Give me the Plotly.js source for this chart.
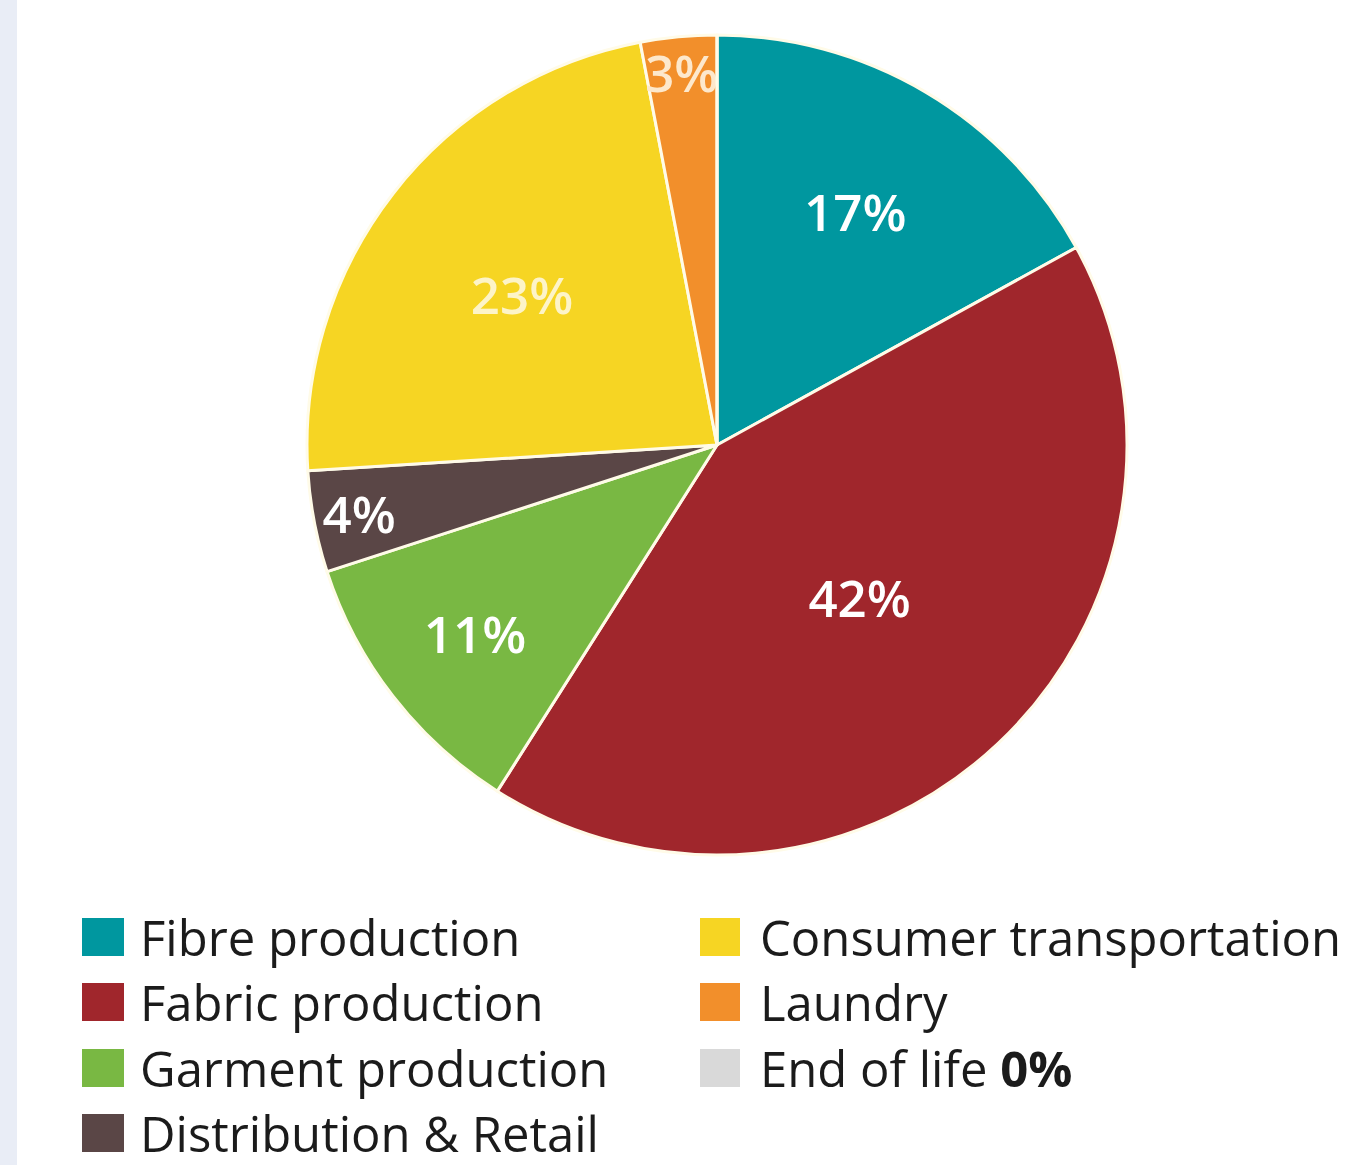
<!DOCTYPE html>
<html>
<head>
<meta charset="utf-8">
<script src="https://cdn.plot.ly/plotly-3.0.1.min.js"></script>
<style>html,body{margin:0;padding:0;background:#fff;}#chart{width:1347px;height:1165px;}</style>
</head>
<body>
<div id="chart"></div>
<script>
var categories = ["Fibre production", "Fabric production", "Garment production", "Distribution & Retail", "Consumer transportation", "Laundry", "End of life"];
var values = [17, 42, 11, 4, 23, 3, 0];
var colors = ["#00979f", "#a0262c", "#79b843", "#5a4646", "#f6d523", "#f28f2b", "#d9d9d9"];
var labelColors = ["#ffffff", "#ffffff", "#ffffff", "#ffffff", "#fdf4c8", "#fde8cc", "#ffffff"];
var legendLabels = ["Fibre production", "Fabric production", "Garment production", "Distribution & Retail", "Consumer transportation", "Laundry", "End of life <b>0%</b>"];

var W = 1347, H = 1165;
var texts = values.map(function(v){ return v > 0 ? v + "%" : ""; });

var trace = {
  type: "pie",
  labels: categories,
  values: values,
  text: texts,
  texttemplate: "%{text}",
  textposition: "inside",
  insidetextorientation: "horizontal",
  insidetextfont: {family: "Open Sans", size: 51, color: labelColors, weight: 600},
  sort: false,
  direction: "clockwise",
  rotation: 0,
  marker: {colors: colors, line: {color: "#fffbe8", width: 3}},
  showlegend: false,
  hoverinfo: "label+percent",
  domain: {x: [(717 - 410) / W, (717 + 410) / W], y: [1 - 855 / H, 1 - 35 / H]}
};

var shapes = [{type: "rect", xref: "paper", yref: "paper", x0: 0, x1: 17 / W, y0: 0, y1: 1, fillcolor: "#e9edf6", line: {width: 0}, layer: "below"}];
var annotations = [];
var colX = [[82, 124, 138], [700, 740, 758]];
var rowY = [937, 1002, 1068, 1133];
legendLabels.forEach(function(lab, i){
  var col = i < 4 ? 0 : 1;
  var row = i < 4 ? i : i - 4;
  var cy = rowY[row];
  shapes.push({type: "rect", xref: "paper", yref: "paper",
    x0: colX[col][0] / W, x1: colX[col][1] / W,
    y0: 1 - (cy + 19) / H, y1: 1 - (cy - 19) / H,
    fillcolor: colors[i], line: {width: 0}});
  annotations.push({xref: "paper", yref: "paper", x: colX[col][2] / W, y: 1 - cy / H,
    xanchor: "left", yanchor: "middle", showarrow: false, text: lab,
    font: {family: "Open Sans", size: 49, color: "#1b1b1b"}});
});

var layout = {
  width: W, height: H,
  margin: {l: 0, r: 0, t: 0, b: 0},
  paper_bgcolor: "#ffffff",
  uniformtext: {mode: "show", minsize: 51},
  shapes: shapes,
  annotations: annotations
};

Plotly.newPlot("chart", [trace], layout, {displayModeBar: false});
</script>
</body>
</html>
